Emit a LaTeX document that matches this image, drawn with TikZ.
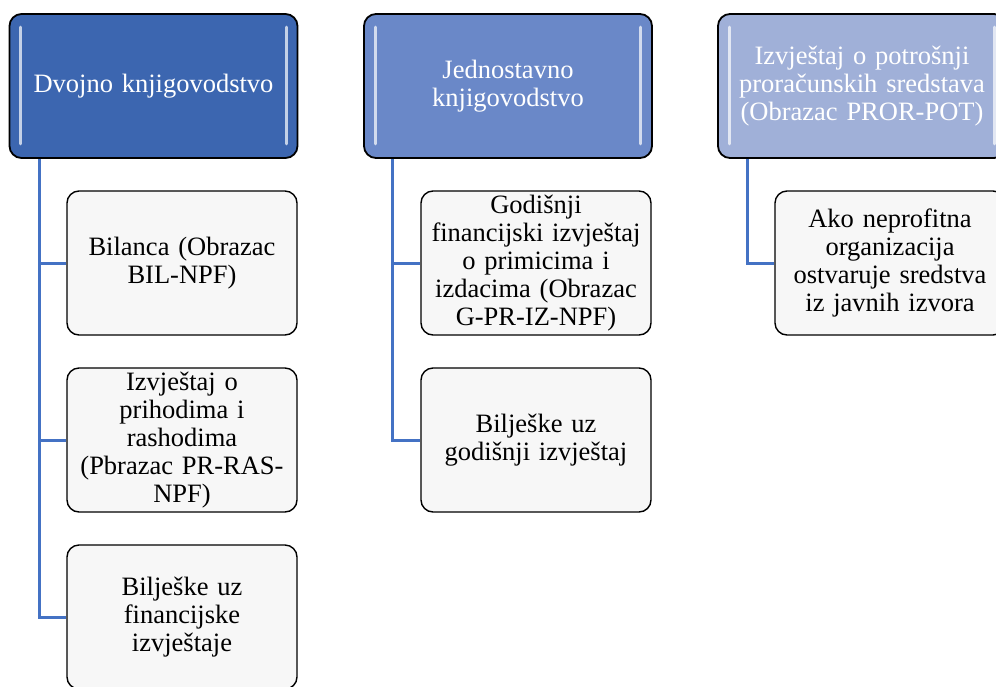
\documentclass[tikz,border=0pt]{standalone}
\usepackage{fontspec}
\setmainfont{Liberation Serif}
\usetikzlibrary{positioning,backgrounds}
\definecolor{hdone}{RGB}{60,102,176}
\definecolor{hdtwo}{RGB}{106,136,200}
\definecolor{hdthree}{RGB}{160,176,216}
\definecolor{linkblue}{RGB}{68,114,196}

\begin{document}
\begin{tikzpicture}[x=1pt,y=-1pt,link/.style={draw=linkblue,line width=3pt}]
		\useasboundingbox (0,0) rectangle (996,686);

		\begin{scope}[every node/.style={draw=black,line width=1.8pt,rounded corners=12pt,minimum width=288pt,minimum height=144pt,inner sep=0pt,text width=272pt,align=center,text=white,font=\fontsize{26.5}{28}\selectfont}]
			\node[fill=hdone] (dvo) at (153.5,86) {Dvojno knjigovodstvo};
			\node[fill=hdtwo] (jed) at (508,86) {Jednostavno\\knjigovodstvo};
			\node[fill=hdthree] (pot) at (862,86) {Izvještaj o potrošnji\\proračunskih sredstava\\(Obrazac PROR-POT)};
		\end{scope}

		\foreach \h in {dvo,jed,pot} {
			\draw[white,opacity=0.7,line width=3pt,line cap=round] ([xshift=12pt,yshift=-14pt]\h.north west) -- ([xshift=12pt,yshift=15pt]\h.south west);
			\draw[white,opacity=0.7,line width=3pt,line cap=round] ([xshift=-12pt,yshift=-14pt]\h.north east) -- ([xshift=-12pt,yshift=15pt]\h.south east);
		}

		\begin{scope}[every node/.style={draw=black,line width=1.4pt,fill=black!3,rounded corners=12pt,minimum width=230pt,minimum height=144pt,inner sep=0pt,text width=216pt,align=center,font=\fontsize{26.5}{28}\selectfont}]
			\node (bil) at (182,263) {Bilanca (Obrazac\\BIL-NPF)};
			\node (izv) at (182,440) {Izvještaj o\\prihodima i\\rashodima\\(Pbrazac PR-RAS-\\NPF)};
			\node (bfi) at (182,617) {Bilješke uz\\financijske\\izvještaje};
			\node (god) at (536,263) {Godišnji\\financijski izvještaj\\o primicima i\\izdacima (Obrazac\\G-PR-IZ-NPF)};
			\node (bgo) at (536,440) {Bilješke uz\\godišnji izvještaj};
			\node (ako) at (890,263) {Ako neprofitna\\organizacija\\ostvaruje sredstva\\iz javnih izvora};
		\end{scope}

		\begin{scope}[on background layer]
			\foreach \b in {bil,izv,bfi}
				\draw[link] ([xshift=31pt]dvo.south west) |- (\b.west);
			\foreach \b in {god,bgo}
				\draw[link] ([xshift=29pt]jed.south west) |- (\b.west);
			\draw[link] ([xshift=30pt]pot.south west) |- (ako.west);
		\end{scope}
	\end{tikzpicture}
\end{document}
